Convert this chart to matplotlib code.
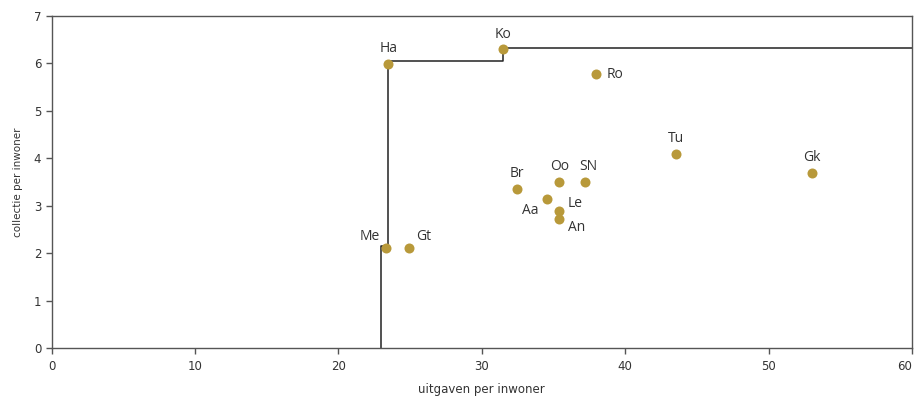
import matplotlib.pyplot as plt

# data
names = ['Ha', 'Ko', 'Ro', 'Me', 'Gt', 'Br', 'Oo', 'SN', 'Aa', 'Le', 'An', 'Tu', 'Gk']
uitgaven = [23.47, 31.48, 37.96, 23.29, 24.92, 32.45, 35.40, 37.21, 34.56, 35.40, 35.40, 43.51, 53.02]
collectie = [5.98, 6.30, 5.77, 2.11, 2.11, 3.35, 3.49, 3.49, 3.15, 2.89, 2.72, 4.08, 3.68]

# frontier step line
front_x = [22.96, 22.96, 23.47, 23.47, 31.48, 31.48, 60]
front_y = [0, 2.15, 2.15, 6.04, 6.04, 6.32, 6.32]

# label placement per point (offset in points, ha, va)
label_pos = {
    'Ha': (0, 6, 'center', 'bottom'),
    'Ko': (0, 5, 'center', 'bottom'),
    'Ro': (8, 0, 'left', 'center'),
    'Me': (-4, 3, 'right', 'bottom'),
    'Gt': (5, 3, 'left', 'bottom'),
    'Br': (0, 6, 'center', 'bottom'),
    'Oo': (0, 6, 'center', 'bottom'),
    'SN': (2, 6, 'center', 'bottom'),
    'Aa': (-6, -3, 'right', 'top'),
    'Le': (6, 0, 'left', 'bottom'),
    'An': (6, -1, 'left', 'top'),
    'Tu': (0, 6, 'center', 'bottom'),
    'Gk': (0, 6, 'center', 'bottom'),
}

COLOR = '#555555'
DOT = '#b8993a'

fig = plt.figure(figsize=(9.14, 3.99), dpi=100)
ax = fig.add_axes([0.0566, 0.128, 0.9412, 0.832])

ax.plot(front_x, front_y, color='#222222', linewidth=1.1, zorder=2)
ax.scatter(uitgaven, collectie, s=52, color=DOT, zorder=3, linewidths=0)

for n, x, y in zip(names, uitgaven, collectie):
    dx, dy, ha, va = label_pos[n]
    ax.annotate(n, (x, y), xytext=(dx, dy), textcoords='offset points',
                ha=ha, va=va, fontsize=10, color='#333333', family='Open Sans')

ax.set_xlim(0, 60)
ax.set_ylim(0, 7)
ax.set_xticks(range(0, 61, 10))
ax.set_yticks(range(0, 8))

for s in ax.spines.values():
    s.set_color(COLOR)
    s.set_linewidth(1)
ax.tick_params(axis='both', colors=COLOR, labelcolor='#333333', labelsize=8.5, length=4, width=1)
ax.tick_params(axis='x', pad=5)
ax.get_xticklabels()[-1].set_horizontalalignment('right')

ax.set_xlabel('uitgaven per inwoner', fontsize=8.5, color='#333333', labelpad=7)
ax.set_ylabel('collectie per inwoner', fontsize=7.5, color='#333333', labelpad=8)

fig.savefig('out.png', dpi=100)
